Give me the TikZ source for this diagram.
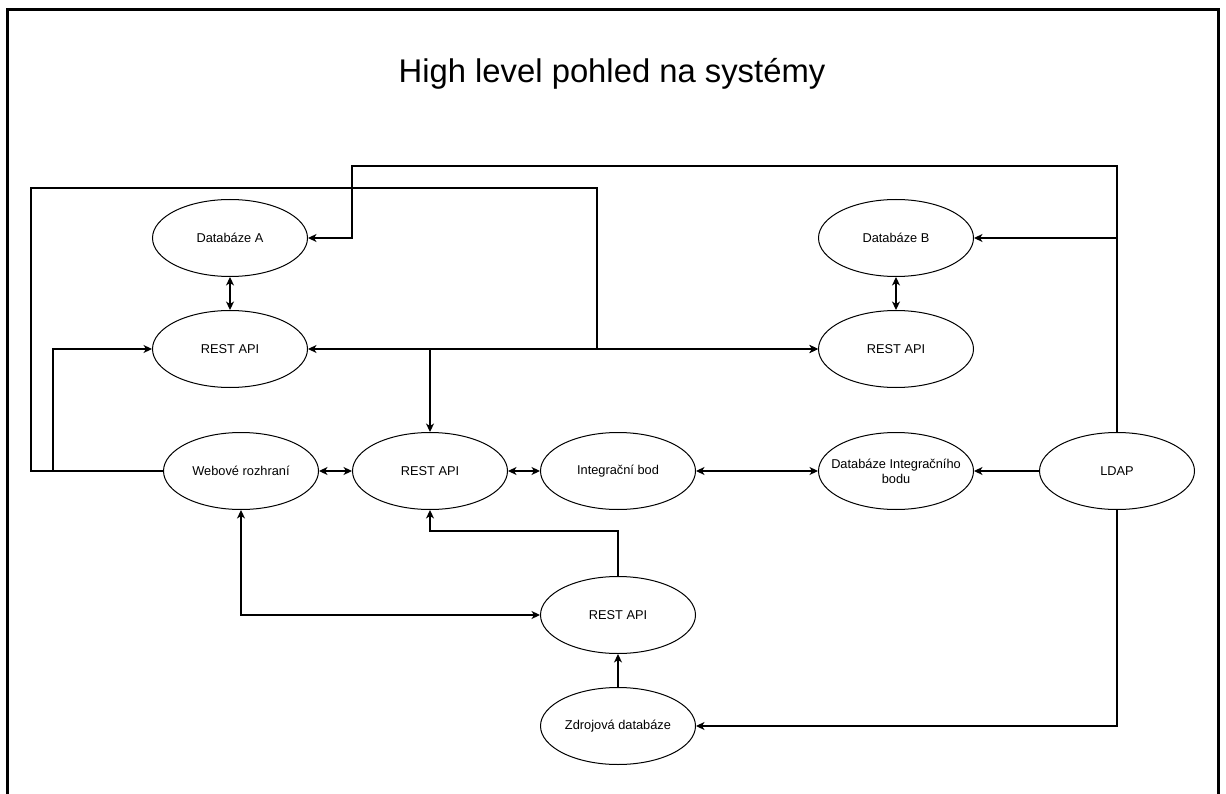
\documentclass[tikz,border=0pt]{standalone}
\usepackage{fontspec}
\setmainfont{Liberation Sans}
\usetikzlibrary{shapes.geometric,arrows.meta}

\tikzset{
  sys/.style={draw, ellipse, line width=1pt, minimum width=155pt, minimum height=77pt,
    inner xsep=-15pt, inner ysep=0pt, align=center,
    font=\fontsize{12.8}{15}\selectfont},
  link/.style={line width=1.1pt}
}

\begin{document}
\begin{tikzpicture}[x=1pt, y=-1pt, >={Stealth[length=8.5pt,width=8pt,inset=2.5pt]}]
  \useasboundingbox (0,0) rectangle (1226,794);
  % frame and title
  \draw[line width=3pt] (7.5,794) -- (7.5,10) -- (1218.5,10) -- (1218.5,794);
  \node[anchor=base, font=\fontsize{32.8}{38}\selectfont] (title) at (612,83) {High level pohled na systémy};

  % systems
  \node[sys] (dba) at (230,238) {Databáze A};
  \node[sys] (resta) at (230,349) {REST API};
  \node[sys] (dbb) at (896,238) {Databáze B};
  \node[sys] (restb) at (896,349) {REST API};
  \node[sys] (web) at (241,471) {Webové rozhraní};
  \node[sys] (restc) at (430,471) {REST API};
  \node[sys] (intb) at (618,471) {Integrační bod};
  \node[sys] (dbint) at (896,471) {Databáze Integračního\\bodu};
  \node[sys] (ldap) at (1117,471) {LDAP};
  \node[sys] (restz) at (618,615) {REST API};
  \node[sys] (zdroj) at (618,726) {Zdrojová databáze};

  % bends
  \coordinate (topa) at (352,166);
  \coordinate (junc) at (430,349);
  \coordinate (loopin) at (53,349);
  \coordinate (loopout) at (31,188);
  \coordinate (bendb) at (597,349);
  \coordinate (bendz) at (618,531);

  % connectors
  \draw[link,<->] (dba.south) -- (resta.north);
  \draw[link,<->] (dbb.south) -- (restb.north);
  \draw[link,<->] (web.east) -- (restc.west);
  \draw[link,<->] (restc.east) -- (intb.west);
  \draw[link,<->] (intb.east) -- (dbint.west);
  \draw[link,->] (ldap.west) -- (dbint.east);
  \draw[link,->] (ldap.north) |- (dbb.east);
  \draw[link,->] (ldap.north) |- (topa) |- (dba.east);
  \draw[link,->] (ldap.south) |- (zdroj.east);
  \draw[link,->] (zdroj.north) -- (restz.south);
  \draw[link,->] (restz.north) -- (bendz) -| (restc.south);
  \draw[link,<->] (web.south) |- (restz.west);
  \draw[link,->] (web.west) -| (loopin) -- (resta.west);
  \draw[link,->] (web.west) -| (loopout) -| (bendb) -- (restb.west);
  \draw[link,<->] (restc.north) -- (junc) -- (resta.east);
  \draw[link,->] (junc) -- (restb.west);
\end{tikzpicture}
\end{document}
